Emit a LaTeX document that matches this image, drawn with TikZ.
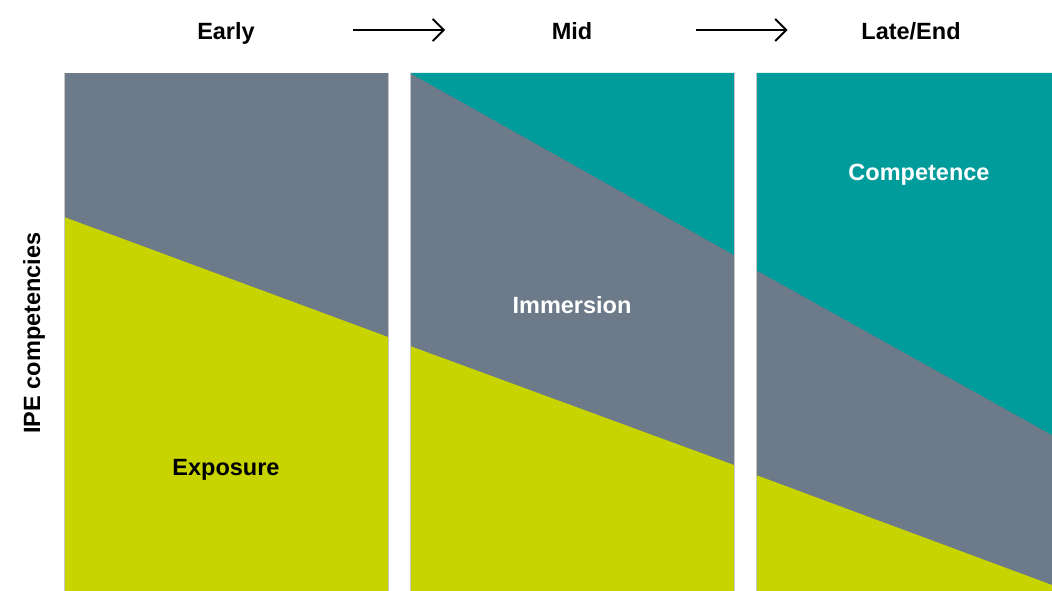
\documentclass[tikz,border=0pt]{standalone}
\usepackage{fontspec}
\setmainfont{Liberation Sans}
\usetikzlibrary{arrows.meta, calc, positioning}
\definecolor{slate}{RGB}{108,122,137}
\definecolor{teal}{RGB}{0,155,155}
\definecolor{lime}{RGB}{200,212,0}
\tikzstyle{heading} = [anchor=base, font=\fontsize{23.5}{27}\selectfont\bfseries, text=black, inner sep=0pt]
\tikzstyle{stage} = [font=\fontsize{23.5}{27}\selectfont\bfseries, inner sep=0pt]
\tikzstyle{timeline} = [line width=1.8pt, -{Straight Barb[length=11pt, width=22pt, line width=1.8pt]}]
\tikzstyle{edge} = [draw=gray!45, line width=0.8pt]

\begin{document}
\begin{tikzpicture}[x=1pt, y=-1pt]
  \useasboundingbox (0,0) rectangle (1052,591);
  % early
  \fill [slate] (64,73) rectangle (388,591);
  \fill [lime] (64,217) -- (388,337) -- (388,591) -- (64,591) -- cycle;
  \draw [edge] (64,73) -- (64,591) (388,73) -- (388,591);
  % mid
  \fill [slate] (410,73) rectangle (734,591);
  \fill [teal] (410,73) -- (734,73) -- (734,255) -- cycle;
  \fill [lime] (410,346) -- (734,465) -- (734,591) -- (410,591) -- cycle;
  \draw [edge] (410,73) -- (410,591) (734,73) -- (734,591);
  % late
  \fill [slate] (756,73) rectangle (1052,591);
  \fill [teal] (756,73) -- (1052,73) -- (1052,435) -- (756,270) -- cycle;
  \fill [lime] (756,475) -- (1052,585) -- (1052,591) -- (756,591) -- cycle;
  \draw [edge] (756,73) -- (756,591);

  \node (early) [heading] at (226,40) {Early};
  \node (mid) [heading] at (572,40) {Mid};
  \node (late) [heading] at (911,40) {Late/End};
  \coordinate (gapA) at ($(early.base)!0.5!(mid.base) + (0,-10)$);
  \coordinate (gapB) at ($(mid.base)!0.5!(late.base) + (0,-10)$);
  \draw [timeline] ([xshift=-46pt]gapA) -- ([xshift=46pt]gapA);
  \draw [timeline] ([xshift=-46pt]gapB) -- ([xshift=46pt]gapB);

  \node (exposure) [stage, text=black] at (226,470) {Exposure};
  \node (immersion) [stage, text=white] at (572,305) {Immersion};
  \node (competence) [stage, text=white] at (919,175) {Competence};
  \node (axis) [stage, text=black, rotate=90] at (34,333) {IPE competencies};
\end{tikzpicture}
\end{document}
